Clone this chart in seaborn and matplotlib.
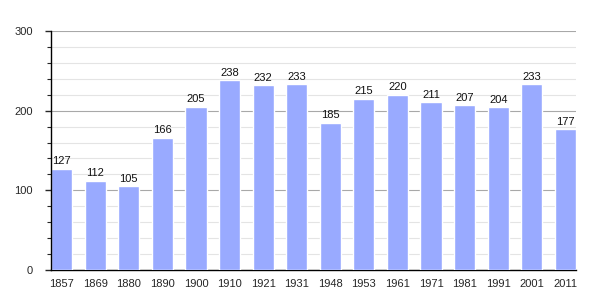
import matplotlib
matplotlib.use("Agg")
import matplotlib.pyplot as plt
import seaborn as sns
import pandas as pd
from matplotlib.ticker import MultipleLocator

years = ["1857", "1869", "1880", "1890", "1900", "1910", "1921", "1931",
         "1948", "1953", "1961", "1971", "1981", "1991", "2001", "2011"]
population = [127, 112, 105, 166, 205, 238, 232, 233, 185, 215, 220, 211, 207, 204, 233, 177]

df = pd.DataFrame({"year": years, "pop": population})

sns.set_style("white")
plt.rcParams['font.family'] = ['Liberation Sans', 'DejaVu Sans']

fig = plt.figure(figsize=(6.05, 3.0), dpi=100)
ax = fig.add_axes([0.0843, 0.1, 0.8677, 0.7967])

sns.barplot(data=df, x="year", y="pop", color="#99aaff", saturation=1,
            width=0.63, ax=ax, zorder=3)

ax.set_ylim(0, 300)
ax.set_xlim(-0.315, len(years) - 1 + 0.315)
ax.yaxis.set_major_locator(MultipleLocator(100))
ax.yaxis.set_minor_locator(MultipleLocator(20))
ax.grid(axis="y", which="minor", color="#e4e4e4", linewidth=0.8, zorder=0)
ax.grid(axis="y", which="major", color="#a8a8a8", linewidth=0.8, zorder=0)
ax.set_axisbelow(True)

for s in ["top", "right"]:
    ax.spines[s].set_visible(False)
ax.spines["left"].set_color("black")
ax.spines["bottom"].set_color("black")
ax.spines["left"].set_linewidth(1)
ax.spines["bottom"].set_linewidth(1)
ax.spines["left"].set_zorder(5)

ax.tick_params(axis="y", which="major", left=True, length=4, width=1, labelsize=8, pad=9)
ax.tick_params(axis="y", which="minor", left=True, length=3, width=0.8)
ax.tick_params(axis="x", bottom=False, labelsize=8, pad=3)
ax.set_xlabel("")
ax.set_ylabel("")

for i, v in enumerate(population):
    ax.text(i, v + 3, str(v), ha="center", va="bottom", fontsize=8, color="#111111")

fig.savefig("out.png", dpi=100)
